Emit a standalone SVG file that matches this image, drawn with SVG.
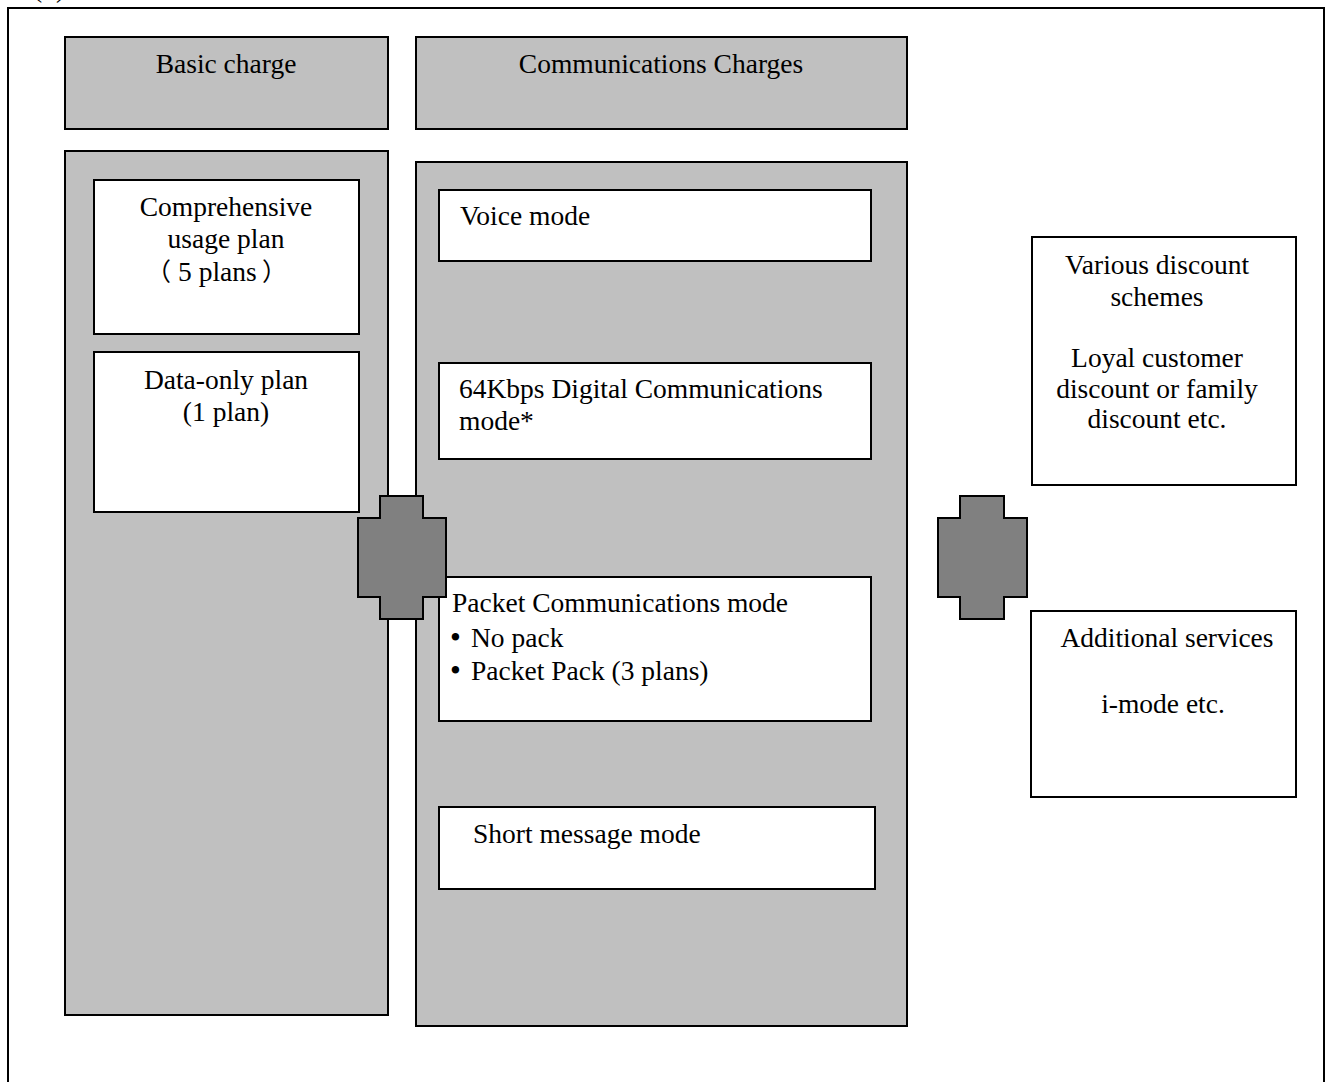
<svg xmlns="http://www.w3.org/2000/svg" width="1332" height="1082" viewBox="0 0 1332 1082">
<style>
text{font-family:"Liberation Serif","Times New Roman",serif;font-size:27.5px;fill:#000}
.c{text-anchor:middle}
.g{fill:#c0c0c0;stroke:#000;stroke-width:2}
.w{fill:#fff;stroke:#000;stroke-width:2}
.op{fill:#808080;stroke:#000;stroke-width:2}
.fw{font-family:"Noto Sans CJK JP","Liberation Serif",serif;font-size:25px;text-spacing-trim:space-all}
.b{font-size:31px}
</style>
<rect width="1332" height="1082" fill="#fff"/>
<text x="33" y="-3">(1)</text>
<rect id="frame" x="8" y="8" width="1316" height="1090" fill="none" stroke="#000" stroke-width="2"/>
<g id="basic-header"><rect class="g" x="65" y="37" width="323" height="92"/><text class="c" x="226" y="73">Basic charge</text></g>
<g id="comm-header"><rect class="g" x="416" y="37" width="491" height="92"/><text class="c" x="661" y="73">Communications Charges</text></g>
<g id="basic-body"><rect class="g" x="65" y="151" width="323" height="864"/></g>
<g id="comm-body"><rect class="g" x="416" y="162" width="491" height="864"/></g>
<g id="comprehensive"><rect class="w" x="94" y="180" width="265" height="154"/><text class="c" x="226" y="216">Comprehensive</text><text class="c" x="226" y="248">usage plan</text><text x="146" y="281" class="fw">（<tspan x="178" style="font-family:'Liberation Serif',serif;font-size:27.5px">5 plans</tspan><tspan x="262">）</tspan></text></g>
<g id="data-only"><rect class="w" x="94" y="352" width="265" height="160"/><text class="c" x="226" y="389">Data-only plan</text><text class="c" x="226" y="421">(1 plan)</text></g>
<g id="voice"><rect class="w" x="439" y="190" width="432" height="71"/><text x="460" y="225">Voice mode</text></g>
<g id="digital"><rect class="w" x="439" y="363" width="432" height="96"/><text x="459" y="398">64Kbps Digital Communications</text><text x="459" y="430">mode*</text></g>
<g id="packet"><rect class="w" x="439" y="577" width="432" height="144"/><text x="452" y="612">Packet Communications mode</text><text x="450" y="648"><tspan class="b">•</tspan><tspan x="471" y="647">No pack</tspan></text><text x="450" y="681"><tspan class="b">•</tspan><tspan x="471" y="680">Packet Pack (3 plans)</tspan></text></g>
<g id="sms"><rect class="w" x="439" y="807" width="436" height="82"/><text x="473" y="843">Short message mode</text></g>
<g id="discounts"><rect class="w" x="1032" y="237" width="264" height="248"/><text class="c" x="1157" y="274">Various discount</text><text class="c" x="1157" y="306">schemes</text><text class="c" x="1157" y="367">Loyal customer</text><text class="c" x="1157" y="398">discount or family</text><text class="c" x="1157" y="428">discount etc.</text></g>
<g id="additional"><rect class="w" x="1031" y="611" width="265" height="186"/><text class="c" x="1167" y="647">Additional services</text><text class="c" x="1163" y="713">i-mode etc.</text></g>
<g id="connectors">
<path id="plus-left" class="op" d="M380,496H423V518H446V597H423V619H380V597H358V518H380Z"/>
<path id="plus-right" class="op" d="M960,496H1004V518H1027V597H1004V619H960V597H938V518H960Z"/>
</g>
</svg>
